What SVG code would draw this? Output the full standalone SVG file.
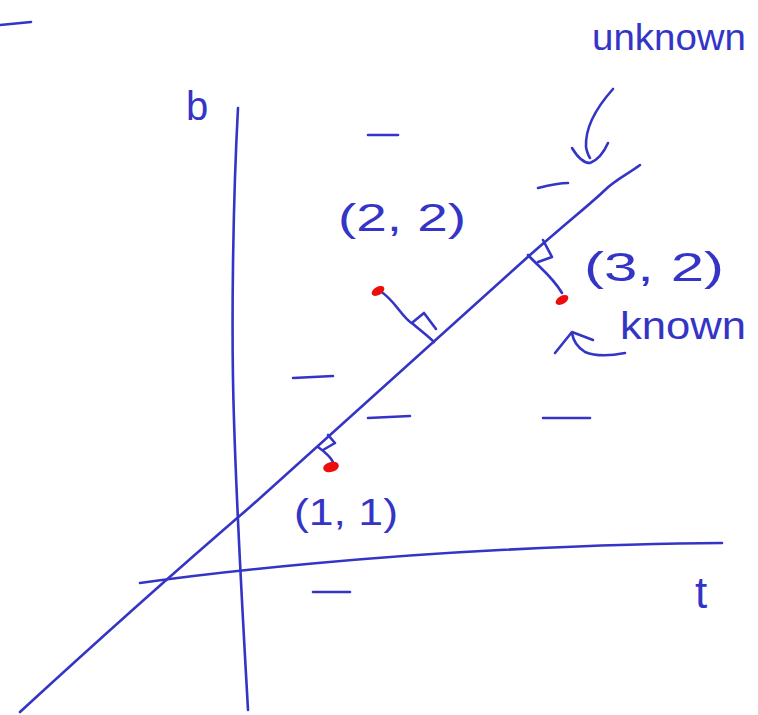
<svg xmlns="http://www.w3.org/2000/svg" width="758" height="715" viewBox="0 0 758 715">
<style>
.s{fill:none;stroke:#3434c6;stroke-width:2.6;stroke-linecap:round;stroke-linejoin:round}
.t{fill:#3434c6;font-family:"Liberation Sans","DejaVu Sans",sans-serif}
.p{fill:#ee0d0d}
</style>
<rect width="758" height="715" fill="#fff"/>
<g id="axes">
<path class="s" d="M238,108 C233,200 231,330 234,420 C237,520 243,620 248,710"/>
<path class="s" d="M140,583 C240,569 380,556 500,550 C600,545 680,543 722,543"/>
</g>
<g id="line">
<path class="s" d="M20,712 C120,620 200,550 250,507 C330,436 430,345 530,255 C570,220 595,200 605,190 C615,180 628,174 640,165"/>
</g>
<g id="ticks">
<path class="s" d="M0,25 L31,22"/>
<path class="s" d="M368,135 L398,135"/>
<path class="s" d="M538,188 C550,185 560,183 568,183"/>
<path class="s" d="M293,378 L333,376"/>
<path class="s" d="M368,418 L410,416"/>
<path class="s" d="M543,418 L590,418"/>
<path class="s" d="M313,592 L350,592"/>
</g>
<g id="connectors">
<path class="s" d="M380,291 C395,300 402,318 413,324 C420,330 428,336 434,342"/>
<path class="s" d="M413,322 L424,313 L436,329"/>
<path class="s" d="M528,255 C540,268 552,276 562,293"/>
<path class="s" d="M543,240 L552,257 L538,262"/>
<path class="s" d="M318,447 C325,452 330,456 333,462"/>
<path class="s" d="M328,435 L335,443 L323,450"/>
<path class="s" d="M613,89 C596,108 585,128 586,147 C587,152 588,155 590,158"/>
<path class="s" d="M572,148 C578,158 584,163 590,163 C598,160 604,152 608,143"/>
<path class="s" d="M625,353 C610,356 597,357 585,352 C577,347 573,340 572,333"/>
<path class="s" d="M555,353 L572,332 L593,340"/>
</g>
<g id="point-2-2"><ellipse class="p" cx="378" cy="291" rx="7" ry="4" transform="rotate(-30 378 291)"/><text class="t" x="338" y="231" font-size="38" textLength="128" lengthAdjust="spacingAndGlyphs">(2, 2)</text></g>
<g id="point-3-2"><ellipse class="p" cx="562" cy="300" rx="7" ry="4" transform="rotate(-30 562 300)"/><text class="t" x="584" y="281" font-size="40" textLength="140" lengthAdjust="spacingAndGlyphs">(3, 2)</text></g>
<g id="point-1-1"><ellipse class="p" cx="331" cy="467" rx="8" ry="5" transform="rotate(-15 331 467)"/><text class="t" x="294" y="525" font-size="36" textLength="104" lengthAdjust="spacingAndGlyphs">(1, 1)</text></g>
<g id="label-unknown"><text class="t" x="592" y="50" font-size="36" textLength="154" lengthAdjust="spacingAndGlyphs">unknown</text></g>
<g id="label-known"><text class="t" x="620" y="339" font-size="38" textLength="126" lengthAdjust="spacingAndGlyphs">known</text></g>
<g id="label-b"><text class="t" x="186" y="120" font-size="40">b</text></g>
<g id="label-t"><text class="t" x="695" y="608" font-size="44">t</text></g>
</svg>
